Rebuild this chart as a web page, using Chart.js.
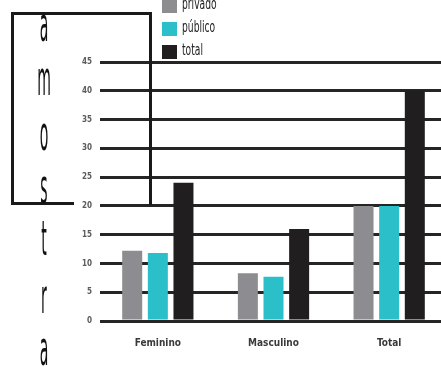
<!DOCTYPE html>
<html>
<head>
<meta charset="utf-8">
<script src="https://cdn.jsdelivr.net/npm/chart.js@4/dist/chart.umd.min.js"></script>
<style>
  html, body { margin: 0; padding: 0; background: #fff; overflow: hidden; }
  #wrap { position: relative; width: 441px; height: 367px; overflow: hidden; }
  #chart { position: absolute; left: 0; top: 0; }
  .box { position: absolute; border: 3px solid #1a1a1a; pointer-events: none; }
  #boxMain { left: 11px; top: 12px; width: 135px; height: 190px; border-bottom: none; }
  #boxFoot { left: 11px; top: 202px; width: 63px; height: 0; border-width: 3px 0 0 0; }
  #word { position: absolute; left: 0; top: 0; }
  #word span {
    position: absolute; left: 32px; width: 24px; text-align: center;
    font-family: "Liberation Sans Narrow", "DejaVu Sans Condensed", sans-serif;
    font-size: 24px; line-height: 24px; color: #111;
    transform: scale(0.65, 2.0); transform-origin: center center;
  }
  #legend { position: absolute; left: 162px; top: -1px; }
  .item { position: absolute; left: 0; height: 14px; white-space: nowrap; }
  .sw { position: absolute; left: 0; top: 0; width: 15px; height: 14px; }
  .lbl {
    position: absolute; left: 20px; top: -4px;
    font-family: "Liberation Sans Narrow", "DejaVu Sans Condensed", sans-serif;
    font-size: 15px; color: #222; transform: scaleX(0.68); transform-origin: left center;
  }
</style>
</head>
<body>
<div id="wrap">
  <canvas id="chart" width="447" height="367" style="width:447px;height:367px"></canvas>
  <div id="boxMain" class="box"></div>
  <div id="boxFoot" class="box"></div>
  <div id="word"></div>
  <div id="legend"></div>
</div>
<script>
// dados
const categories = ['Feminino', 'Masculino', 'Total'];
const privado = [12.2, 8.3, 20];
const publico = [11.8, 7.7, 20];
const total = [24, 16, 40];
const yTicks = [0, 5, 10, 15, 20, 25, 30, 35, 40, 45];
const seriesNames = ['privado', 'público', 'total'];
const seriesColors = ['#8d8d91', '#2abfc9', '#201e1f'];
const sideWord = ['a', 'm', 'o', 's', 't', 'r', 'a'];

// palavra vertical
const word = document.getElementById('word');
const letterY = [13, 67, 122, 175, 227, 285, 337];
sideWord.forEach((ch, i) => {
  const s = document.createElement('span');
  s.textContent = ch;
  s.style.top = letterY[i] + 'px';
  word.appendChild(s);
});

// legenda
const legend = document.getElementById('legend');
seriesNames.forEach((name, i) => {
  const it = document.createElement('div');
  it.className = 'item';
  it.style.top = (i * 23) + 'px';
  it.innerHTML = '<div class="sw" style="background:' + seriesColors[i] + '"></div><span class="lbl">' + name + '</span>';
  legend.appendChild(it);
});

const seriesData = [privado, publico, total];

new Chart(document.getElementById('chart'), {
  type: 'bar',
  data: {
    labels: categories,
    datasets: seriesNames.map((name, i) => ({
      label: name,
      data: seriesData[i],
      backgroundColor: seriesColors[i],
      borderWidth: 0,
      categoryPercentage: 0.665,
      barPercentage: 0.78
    }))
  },
  options: {
    responsive: false,
    animation: false,
    layout: { padding: { top: 62, right: 0, bottom: 0, left: 0 } },
    plugins: { legend: { display: false }, tooltip: { enabled: false } },
    scales: {
      x: {
        grid: { display: false },
        border: { display: false },
        ticks: {
          padding: 8,
          color: '#3a3a3a',
          font: { family: '"Liberation Sans Narrow", "DejaVu Sans Condensed", sans-serif', size: 10, weight: 'bold' }
        },
        afterFit: (scale) => { scale.height = 46; }
      },
      y: {
        min: 0,
        max: 45,
        afterBuildTicks: (scale) => { scale.ticks = yTicks.map(v => ({ value: v })); },
        grid: { color: '#252525', lineWidth: 3, drawTicks: false },
        border: { display: false },
        ticks: {
          padding: 8,
          color: '#5a5a5a',
          font: { family: '"Liberation Sans Narrow", "DejaVu Sans Condensed", sans-serif', size: 8, weight: 'bold' }
        },
        afterFit: (scale) => { scale.width = 100; }
      }
    }
  }
});
</script>
</body>
</html>
